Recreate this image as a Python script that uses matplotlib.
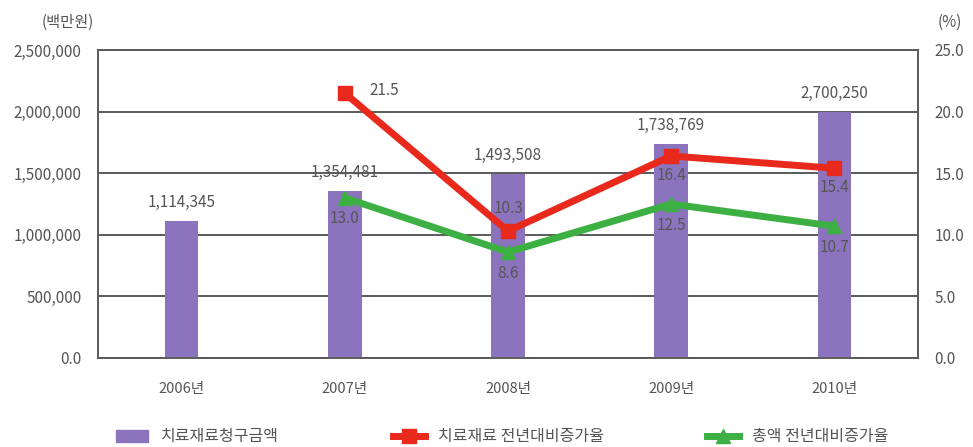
import matplotlib
matplotlib.use("Agg")
import matplotlib.pyplot as plt
from matplotlib.lines import Line2D
from matplotlib.patches import Patch

plt.rcParams['font.family'] = ['Noto Sans CJK KR', 'DejaVu Sans']

years = ["2006년", "2007년", "2008년", "2009년", "2010년"]
bar_values = [1114345, 1354481, 1493508, 1738769, 2000000]
bar_labels = ["1,114,345", "1,354,481", "1,493,508", "1,738,769", "2,700,250"]
red_values = [None, 21.5, 10.3, 16.4, 15.4]
green_values = [None, 13.0, 8.6, 12.5, 10.7]
left_ticks = [0, 500000, 1000000, 1500000, 2000000, 2500000]
left_tick_labels = ["0.0", "500,000", "1,000,000", "1,500,000", "2,000,000", "2,500,000"]
right_ticks = [0, 5, 10, 15, 20, 25]
right_tick_labels = ["0.0", "5.0", "10.0", "15.0", "20.0", "25.0"]
legend_names = ["치료재료청구금액", "치료재료 전년대비증가율", "총액 전년대비증가율"]

purple = "#8b74bd"
red = "#e8291c"
green = "#3cb043"
txt = "#555555"
grid = "#5a5a5a"

W, H = 973, 447
fig = plt.figure(figsize=(W / 100, H / 100), dpi=100)
ax = fig.add_axes([98 / W, (H - 358) / H, 820 / W, 308 / H])
x = list(range(len(years)))

ax.bar(x, bar_values, width=0.205, color=purple, zorder=2)
ax.set_xlim(-0.5125, 4.5125)
ax.set_ylim(0, 2500000)
ax.set_yticks(left_ticks)
ax.set_yticklabels(left_tick_labels, color=txt, fontsize=11)
ax.set_xticks(x)
ax.set_xticklabels(years, color=txt, fontsize=10.5)
ax.tick_params(length=0, pad=12)
ax.tick_params(axis='x', pad=17)
ax.grid(axis='y', color=grid, linewidth=1.4, zorder=1)
for s in ax.spines.values():
    s.set_color(grid)
    s.set_linewidth(1.4)

for xi, v, lab in zip(x, bar_values, bar_labels):
    ax.annotate(lab, (xi, v), xytext=(0, 7), textcoords='offset points',
                ha='center', va='bottom', color=txt, fontsize=11, zorder=5)

ax2 = ax.twinx()
ax2.set_ylim(0, 25)
ax2.set_yticks(right_ticks)
ax2.set_yticklabels(right_tick_labels, color=txt, fontsize=11)
ax2.tick_params(length=0, pad=12)
for s in ax2.spines.values():
    s.set_visible(False)

xr = [xi for xi, v in zip(x, red_values) if v is not None]
yr = [v for v in red_values if v is not None]
xg = [xi for xi, v in zip(x, green_values) if v is not None]
yg = [v for v in green_values if v is not None]
ax2.plot(xr, yr, color=red, linewidth=5, marker='s', markersize=10, zorder=4)
ax2.plot(xg, yg, color=green, linewidth=5, marker='^', markersize=10, zorder=3)

red_offsets = [None, (18, 2, 'left', 'center'), (0, 10, 'center', 'bottom'),
               (0, -8, 'center', 'top'), (0, -8, 'center', 'top')]
for xi, v, off in zip(x, red_values, red_offsets):
    if v is None:
        continue
    ax2.annotate(f"{v:.1f}", (xi, v), xytext=off[:2], textcoords='offset points',
                 ha=off[2], va=off[3], color=txt, fontsize=11, zorder=6)
for xi, v in zip(x, green_values):
    if v is None:
        continue
    ax2.annotate(f"{v:.1f}", (xi, v), xytext=(0, -9), textcoords='offset points',
                 ha='center', va='top', color=txt, fontsize=11, zorder=6)

fig.text(68 / W, 1 - 22 / H, "(백만원)", ha='center', va='center', color=txt, fontsize=11)
fig.text(950 / W, 1 - 22 / H, "(%)", ha='center', va='center', color=txt, fontsize=11)

handles = [Patch(color=purple),
           Line2D([], [], color=red, linewidth=5, marker='s', markersize=10),
           Line2D([], [], color=green, linewidth=5, marker='^', markersize=10)]
positions = [116, 393, 707]
for h, name, px in zip(handles, legend_names, positions):
    leg = fig.legend([h], [name], loc='center left', bbox_to_anchor=(px / W, 1 - 437 / H),
                     frameon=False, fontsize=11.5, handlelength=2.0, handletextpad=0.8,
                     borderaxespad=0, borderpad=0)
    for t in leg.get_texts():
        t.set_color(txt)

fig.savefig("out.png", dpi=100)
